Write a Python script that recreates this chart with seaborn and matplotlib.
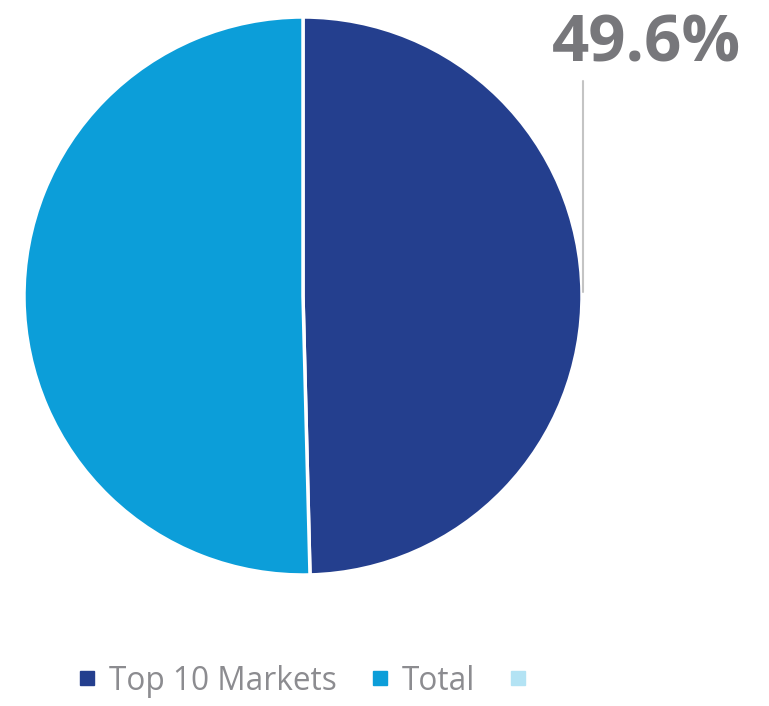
import matplotlib
matplotlib.use("Agg")
import matplotlib.pyplot as plt
from matplotlib.lines import Line2D
import seaborn as sns

# Share of total held by the top 10 markets
categories = ["Top 10 Markets", "Total", ""]
values = [49.6, 50.4, 0.0]
colors = ["#243F8E", "#0C9ED9", "#B3E3F4"]
highlight_label = "49.6%"

sns.set_theme(style="white")
plt.rcParams["font.family"] = ["Open Sans", "DejaVu Sans"]

W, H = 769, 706
fig = plt.figure(figsize=(W / 100, H / 100), dpi=100)

# Pie area in pixel coordinates
cx, cy, r = 303, 296, 279
ax = fig.add_axes([(cx - r) / W, 1 - (cy + r) / H, 2 * r / W, 2 * r / H])

shown = [(v, c) for v, c in zip(values, colors) if v > 0]
ax.pie([v for v, _ in shown], colors=[c for _, c in shown],
       startangle=90, counterclock=False, radius=1,
       wedgeprops=dict(edgecolor="white", linewidth=2.5))
ax.set_xlim(-1, 1)
ax.set_ylim(-1, 1)
ax.set_aspect("equal")
ax.axis("off")

# Leader line and value callout
fig.add_artist(Line2D([583 / W, 583 / W], [1 - 81 / H, 1 - 292 / H],
                      color="#C4C4C4", linewidth=1.5, transform=fig.transFigure))
fig.text(646 / W, 1 - 45 / H, highlight_label, ha="center", va="center",
         fontsize=47, fontweight="bold", color="#77777B")

# Legend
handles = [Line2D([0], [0], marker="s", linestyle="none", markersize=10,
                  markerfacecolor=c, markeredgecolor=c) for c in colors]
fig.legend(handles, categories, loc="center", bbox_to_anchor=(308 / W, 1 - 681 / H),
           ncol=3, frameon=False, fontsize=22.7, labelcolor="#8C8C90",
           handletextpad=0.35, columnspacing=1.0, handlelength=0.7)

fig.savefig("out.png", dpi=100, facecolor="white")
